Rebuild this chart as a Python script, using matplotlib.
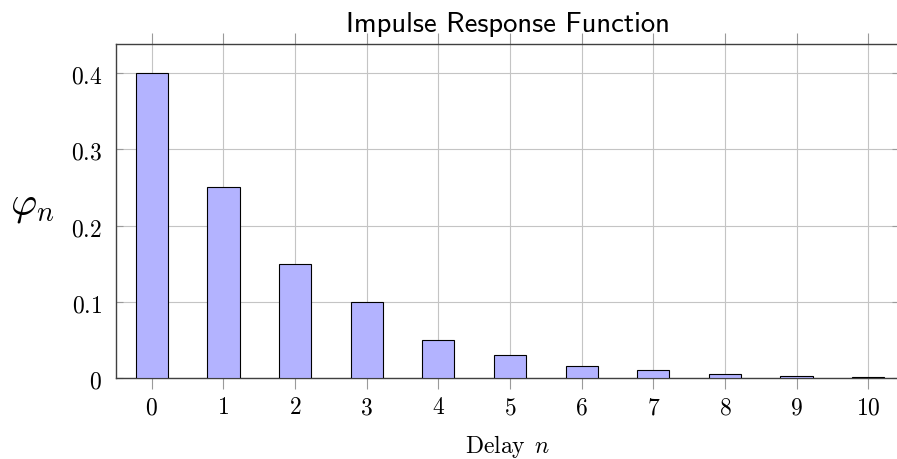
import matplotlib
matplotlib.use('Agg')
import matplotlib.pyplot as plt

# impulse response values
delays = [0, 1, 2, 3, 4, 5, 6, 7, 8, 9, 10]
phi = [0.4, 0.25, 0.15, 0.1, 0.05, 0.03, 0.015, 0.01, 0.005, 0.002, 0.001]
yticks = [0, 0.1, 0.2, 0.3, 0.4]
ytick_labels = ['0', '0.1', '0.2', '0.3', '0.4']

plt.rcParams['mathtext.fontset'] = 'cm'
plt.rcParams['axes.unicode_minus'] = False

fig = plt.figure(figsize=(8.97, 4.6), dpi=100)
# the right spine sits just past the image edge, as in the original
ax = fig.add_axes([116 / 897, 1 - 378.7 / 460, 783 / 897, 334 / 460])

ax.bar(delays, phi, width=0.45, color='#b3b3ff', edgecolor='black', linewidth=0.8, zorder=3)

ax.set_xlim(-0.5, 10.43)
ax.set_ylim(0, 0.439)

ax.set_xticks(delays)
ax.set_xticklabels(['$%d$' % d for d in delays], fontsize=17)
ax.set_yticks(yticks)
ax.set_yticklabels(['$%s$' % s for s in ytick_labels], fontsize=17)

ax.set_axisbelow(True)
ax.grid(True, color='#c4c4c4', linewidth=0.8)

ax.tick_params(axis='x', which='both', direction='out', length=8, width=0.8, color='#9a9a9a',
               top=True, pad=4)
ax.tick_params(axis='y', which='both', direction='in', length=5, width=0.8, color='#9a9a9a',
               right=True, pad=10)

for sp in ax.spines.values():
    sp.set_color('#404040')
    sp.set_linewidth(1.0)

ax.set_xlabel(r'$\mathrm{Delay}\enspace n$', fontsize=17, labelpad=10)
ax.set_ylabel(r'$\varphi_n$', fontsize=29, rotation=0, va='center')
ax.yaxis.set_label_coords(-0.107, 0.52)
ax.set_title('Impulse Response Function', fontsize=20.6, family='cmss10', pad=9)

fig.savefig('out.png', dpi=100)
